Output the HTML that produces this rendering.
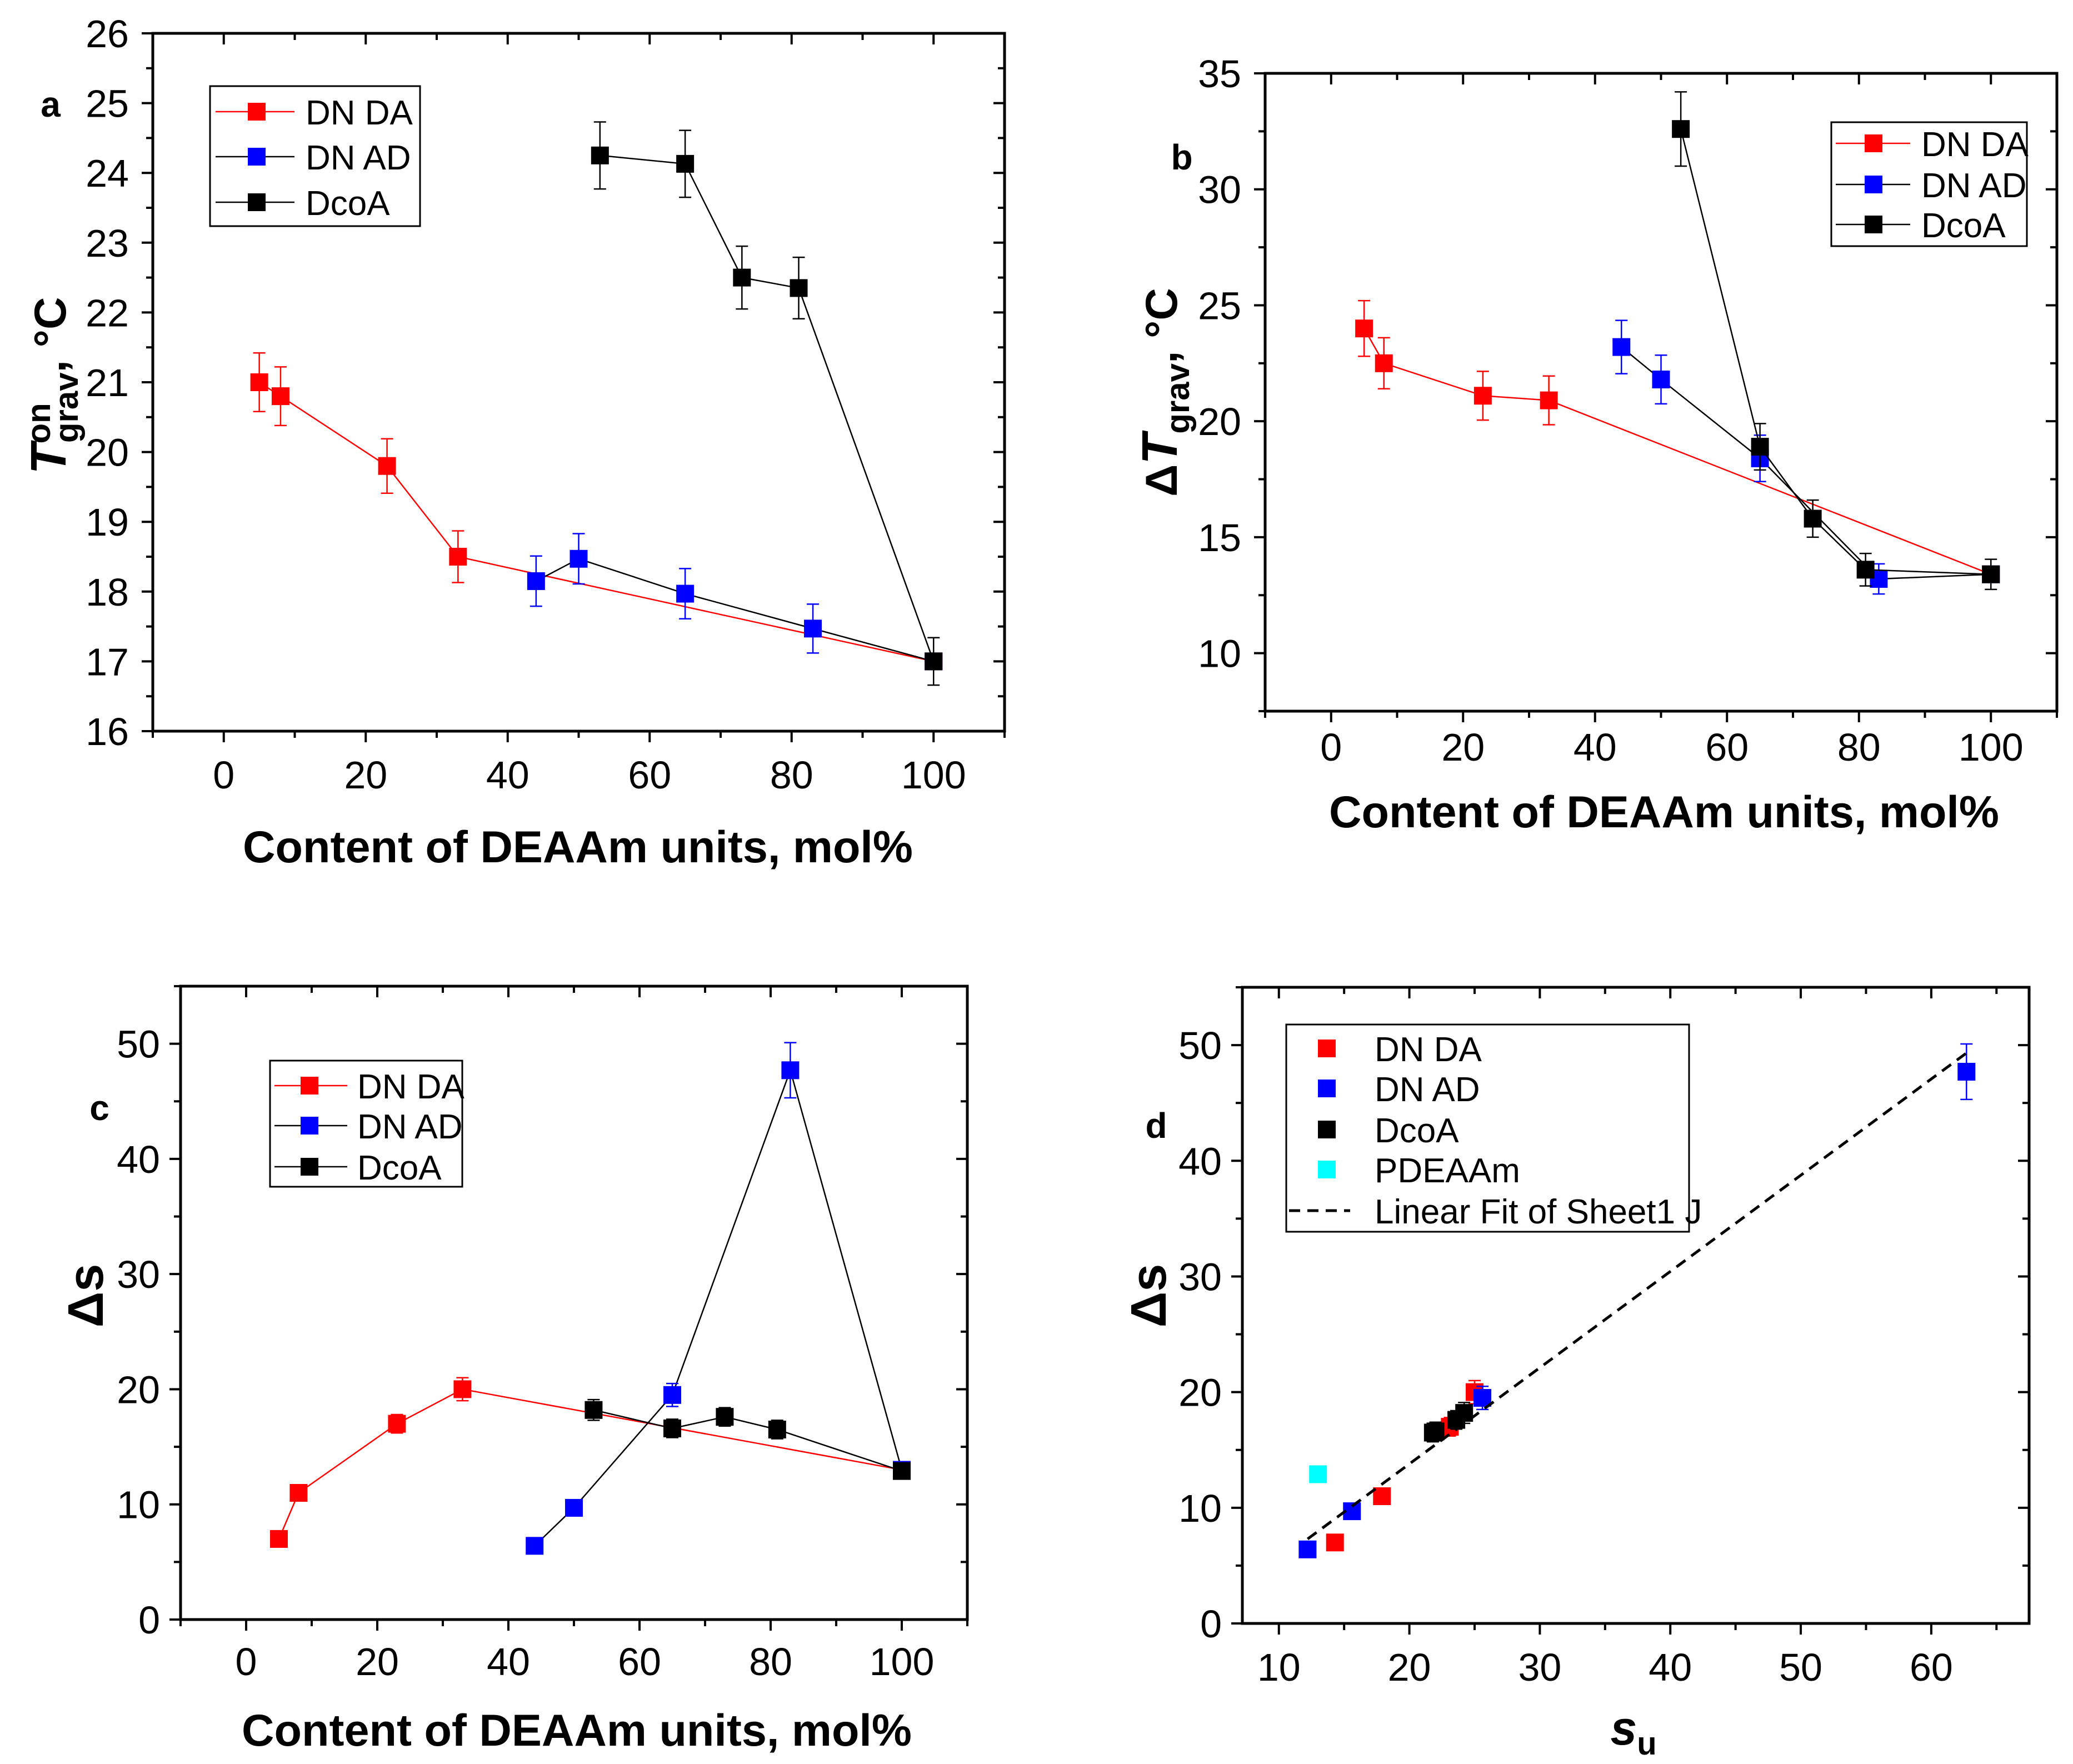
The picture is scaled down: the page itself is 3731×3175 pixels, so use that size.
<!DOCTYPE html>
<html><head><meta charset="utf-8"><style>
html,body{margin:0;padding:0;background:#fff;overflow:hidden}
svg{display:block}
text{font-family:"Liberation Sans",Arial,sans-serif}
</style></head><body>
<svg id="fig" xmlns="http://www.w3.org/2000/svg" width="3731" height="3175" viewBox="0 0 3731 3175"></svg>
<script>
// ---- data ----
const xA_DNDA=[5,8,23,33,100], yA_DNDA=[21,20.8,19.8,18.5,17.0], eA_DNDA=[0.42,0.42,0.39,0.37,0];
const xA_DNAD=[44,50,65,83,100], yA_DNAD=[18.15,18.47,17.97,17.47,17.0], eA_DNAD=[0.36,0.36,0.36,0.35,0];
const xA_DcoA=[53,65,73,81,100], yA_DcoA=[24.25,24.13,22.5,22.35,17.0], eA_DcoA=[0.48,0.48,0.45,0.44,0.34];
const xB_DNDA=[5,8,23,33,100], yB_DNDA=[24,22.5,21.1,20.9,13.4], eB_DNDA=[1.2,1.1,1.05,1.05,0];
const xB_DNAD=[44,50,65,83,100], yB_DNAD=[23.2,21.8,18.4,13.2,13.4], eB_DNAD=[1.15,1.05,1.0,0.65,0];
const xB_DcoA=[53,65,73,81,100], yB_DcoA=[32.6,18.9,15.8,13.6,13.4], eB_DcoA=[1.6,1.0,0.8,0.7,0.65];
const xC_DNDA=[5,8,23,33,100], yC_DNDA=[7,11,17,20,13], eC_DNDA=[0.3,0.3,0.8,1.0,0];
const xC_DNAD=[44,50,65,83,100], yC_DNAD=[6.4,9.7,19.5,47.7,13], eC_DNAD=[0.3,0.3,1.0,2.4,0];
const xC_DcoA=[53,65,73,81,100], yC_DcoA=[18.2,16.6,17.6,16.5,12.9], eC_DcoA=[0.9,0.8,0.8,0.8,0.3];
const xD_DNDA=[14.3,17.9,23.1,25.0], yD_DNDA=[7,11,17,20], eD_DNDA=[0,0,0.8,1.0];
const xD_DNAD=[12.2,15.6,25.6,62.7], yD_DNAD=[6.4,9.7,19.5,47.7], eD_DNAD=[0,0,1.0,2.4];
const xD_DcoA=[21.8,22.0,23.6,24.2], yD_DcoA=[16.5,16.6,17.6,18.2], eD_DcoA=[0.8,0.8,0.8,0.9];
const xD_PDEAAm=[13.0], yD_PDEAAm=[12.9];
const fitRange=[12.2,62.7], fitSlope=0.832, fitIntercept=-2.85;

const NS='http://www.w3.org/2000/svg';
const svg=document.getElementById('fig');
function el(tag,attrs,parent,txt){const e=document.createElementNS(NS,tag);for(const k in attrs)e.setAttribute(k,attrs[k]);if(txt!==undefined)e.textContent=txt;(parent||svg).appendChild(e);return e;}
const MS=16;

function panel(cfg){
  const g=el('g',{});
  
  
  const X=v=>cfg.x0+(v-cfg.xmin)/(cfg.xmax-cfg.xmin)*(cfg.x1-cfg.x0);
  const Y=v=>cfg.y1-(v-cfg.ymin)/(cfg.ymax-cfg.ymin)*(cfg.y1-cfg.y0);
  const tg=el('g',{stroke:'#000','stroke-width':4},g);
  for(let v=cfg.xTickStart;v<=cfg.xmax+1e-9;v+=cfg.xMinor){
    const maj=cfg.xMajorSet(v);
    const L=maj?20:12;
    el('line',{x1:X(v),x2:X(v),y1:cfg.y1,y2:cfg.y1+L},tg);
    el('line',{x1:X(v),x2:X(v),y1:cfg.y0,y2:cfg.y0+L},tg);
  }
  for(let v=cfg.yTickStart;v<=cfg.ymax+1e-9;v+=cfg.yMinor){
    const maj=Math.abs(v/cfg.yMajor-Math.round(v/cfg.yMajor))<1e-6;
    const L=maj?20:12;
    el('line',{x1:cfg.x0-L,x2:cfg.x0,y1:Y(v),y2:Y(v)},tg);
    el('line',{x1:cfg.x1-L,x2:cfg.x1,y1:Y(v),y2:Y(v)},tg);
  }
  const ax=el('rect',{x:cfg.x0,y:cfg.y0,width:cfg.x1-cfg.x0,height:cfg.y1-cfg.y0,fill:'none',stroke:'#000','stroke-width':5},g);
  
  
  cfg.xLabels.forEach(v=>{const t=el('text',{x:X(v),y:cfg.xLabelY+25,'font-size':70,'text-anchor':'middle'},g,String(v));
    
    });
  cfg.yLabels.forEach(v=>{const t=el('text',{x:cfg.yLabelX,y:Y(v)+25,'font-size':70,'text-anchor':'end'},g,String(v));
    
    });
  cfg.series.forEach(s=>{
    const sg=el('g',{},g);
    
    
    if(s.line){
      const pts=s.x.map((v,i)=>X(v)+','+Y(s.y[i])).join(' ');
      el('polyline',{points:pts,fill:'none',stroke:s.lineColor,'stroke-width':2.5},sg);
    }
    s.x.forEach((v,i)=>{
      const e=s.e?s.e[i]:0;
      if(e>0){
        el('line',{x1:X(v),x2:X(v),y1:Y(s.y[i]+e),y2:Y(s.y[i]-e),stroke:s.color,'stroke-width':2.5},sg);
        el('line',{x1:X(v)-11,x2:X(v)+11,y1:Y(s.y[i]+e),y2:Y(s.y[i]+e),stroke:s.color,'stroke-width':2.5},sg);
        el('line',{x1:X(v)-11,x2:X(v)+11,y1:Y(s.y[i]-e),y2:Y(s.y[i]-e),stroke:s.color,'stroke-width':2.5},sg);
      }
      const m=el('rect',{x:X(v)-MS,y:Y(s.y[i])-MS,width:2*MS,height:2*MS,fill:s.color},sg);
      
      
    });
  });
  if(cfg.fit){
    const f=cfg.fit;
    const fl=el('line',{x1:X(f.r[0]),y1:Y(f.s*f.r[0]+f.b),x2:X(f.r[1]),y2:Y(f.s*f.r[1]+f.b),stroke:'#000','stroke-width':5,'stroke-dasharray':'20,13'},g);
    
    
  }
  return {g,X,Y};
}

function legend(g,box,rows,lineX,markX,textX){
  const lg=el('g',{},g);
  
  
  el('rect',{x:box[0],y:box[1],width:box[2]-box[0],height:box[3]-box[1],fill:'#fff',stroke:'#000','stroke-width':3},lg);
  rows.forEach(r=>{
    const eg=el('g',{},lg);
    
    
    if(r.line)el('line',{x1:lineX[0],x2:lineX[1],y1:r.y,y2:r.y,stroke:r.line,'stroke-width':r.dash?5:2.5,'stroke-dasharray':r.dash?'20,13':'none'},eg);
    if(r.color)el('rect',{x:markX-MS,y:r.y-MS,width:2*MS,height:2*MS,fill:r.color},eg);
    el('text',{x:textX,y:r.y+23,'font-size':62},eg,r.label);
  });
}
function txt(g,x,y,s,attrs,name){const t=el('text',Object.assign({x,y},attrs),g,s);return t;}
const TF=81;

// ---- Panel a ----
let p=panel({name:'panel-a',x0:275,x1:1808,y0:60,y1:1316,xmin:-10,xmax:110,ymin:16,ymax:26,
  xTickStart:-10,xMinor:10,xMajorSet:v=>v%20===0,yTickStart:16,yMinor:0.5,yMajor:1,
  xLabels:[0,20,40,60,80,100],yLabels:[16,17,18,19,20,21,22,23,24,25,26],xLabelY:1394,yLabelX:232,
  series:[
    {key:'dn-da',x:xA_DNDA,y:yA_DNDA,e:eA_DNDA,color:'#ff0000',line:true,lineColor:'#ff0000'},
    {key:'dn-ad',x:xA_DNAD,y:yA_DNAD,e:eA_DNAD,color:'#0000ff',line:true,lineColor:'#000'},
    {key:'dcoa',x:xA_DcoA,y:yA_DcoA,e:eA_DcoA,color:'#000',line:true,lineColor:'#000'}]});
legend(p.g,[378,155,756,407],[{y:201,line:'#ff0000',color:'#ff0000',label:'DN DA'},{y:282,line:'#000',color:'#0000ff',label:'DN AD'},{y:364,line:'#000',color:'#000',label:'DcoA'}],[388,530],462,550);
txt(p.g,1040,1552,'Content of DEAAm units, mol%',{'font-size':TF,'font-weight':'bold','text-anchor':'middle'},'x-axis-title');
let t=txt(p.g,0,0,'',{'font-size':TF,'font-weight':'bold','text-anchor':'middle',transform:'translate(118,694) rotate(-90)'},'y-axis-title');
t.innerHTML='<tspan font-style="italic" font-size="90">T</tspan><tspan font-size="60" dy="-28">on</tspan><tspan font-size="60" dx="-72" dy="50">grav</tspan><tspan dy="-22">, °C</tspan>';
txt(p.g,91,210,'a',{'font-size':64,'font-weight':'bold','text-anchor':'middle'},'panel-label');

// ---- Panel b ----
p=panel({name:'panel-b',x0:2277,x1:3702,y0:132,y1:1280,xmin:-10,xmax:110,ymin:7.5,ymax:35,
  xTickStart:-10,xMinor:10,xMajorSet:v=>v%20===0,yTickStart:7.5,yMinor:2.5,yMajor:5,
  xLabels:[0,20,40,60,80,100],yLabels:[10,15,20,25,30,35],xLabelY:1344,yLabelX:2234,
  series:[
    {key:'dn-da',x:xB_DNDA,y:yB_DNDA,e:eB_DNDA,color:'#ff0000',line:true,lineColor:'#ff0000'},
    {key:'dn-ad',x:xB_DNAD,y:yB_DNAD,e:eB_DNAD,color:'#0000ff',line:true,lineColor:'#000'},
    {key:'dcoa',x:xB_DcoA,y:yB_DcoA,e:eB_DcoA,color:'#000',line:true,lineColor:'#000'}]});
legend(p.g,[3296,220,3648,443],[{y:258,line:'#ff0000',color:'#ff0000',label:'DN DA'},{y:332,line:'#000',color:'#0000ff',label:'DN AD'},{y:404,line:'#000',color:'#000',label:'DcoA'}],[3304,3438],3372,3458);
txt(p.g,2995,1489,'Content of DEAAm units, mol%',{'font-size':TF,'font-weight':'bold','text-anchor':'middle'},'x-axis-title');
t=txt(p.g,0,0,'',{'font-size':TF,'font-weight':'bold','text-anchor':'middle',transform:'translate(2118,706) rotate(-90)'},'y-axis-title');
t.innerHTML='Δ<tspan font-style="italic" font-size="90">T</tspan><tspan font-size="60" dy="22">grav</tspan><tspan dy="-22">, °C</tspan>';
txt(p.g,2127,305,'b',{'font-size':64,'font-weight':'bold','text-anchor':'middle'},'panel-label');

// ---- Panel c ----
p=panel({name:'panel-c',x0:325,x1:1741,y0:1775,y1:2915,xmin:-10,xmax:110,ymin:0,ymax:55,
  xTickStart:-10,xMinor:10,xMajorSet:v=>v%20===0,yTickStart:0,yMinor:5,yMajor:10,
  xLabels:[0,20,40,60,80,100],yLabels:[0,10,20,30,40,50],xLabelY:2990,yLabelX:288,
  series:[
    {key:'dn-da',x:xC_DNDA,y:yC_DNDA,e:eC_DNDA,color:'#ff0000',line:true,lineColor:'#ff0000'},
    {key:'dn-ad',x:xC_DNAD,y:yC_DNAD,e:eC_DNAD,color:'#0000ff',line:true,lineColor:'#000'},
    {key:'dcoa',x:xC_DcoA,y:yC_DcoA,e:eC_DcoA,color:'#000',line:true,lineColor:'#000'}]});
legend(p.g,[486,1909,832,2136],[{y:1954,line:'#ff0000',color:'#ff0000',label:'DN DA'},{y:2026,line:'#000',color:'#0000ff',label:'DN AD'},{y:2100,line:'#000',color:'#000',label:'DcoA'}],[494,625],557,643);
txt(p.g,1038,3142,'Content of DEAAm units, mol%',{'font-size':TF,'font-weight':'bold','text-anchor':'middle'},'x-axis-title');
txt(p.g,0,0,'Δs',{'font-size':90,'font-weight':'bold','text-anchor':'middle',transform:'translate(185,2332) rotate(-90)'},'y-axis-title');
txt(p.g,179,2016,'c',{'font-size':64,'font-weight':'bold','text-anchor':'middle'},'panel-label');

// ---- Panel d ----
p=panel({name:'panel-d',x0:2236,x1:3652,y0:1777,y1:2922,xmin:7.2,xmax:67.5,ymin:0,ymax:55,
  xTickStart:10,xMinor:5,xMajorSet:v=>v%10===0,yTickStart:0,yMinor:5,yMajor:10,
  xLabels:[10,20,30,40,50,60],yLabels:[0,10,20,30,40,50],xLabelY:3000,yLabelX:2199,
  fit:{r:fitRange,s:fitSlope,b:fitIntercept},
  series:[
    {key:'dn-da',x:xD_DNDA,y:yD_DNDA,e:eD_DNDA,color:'#ff0000'},
    {key:'dn-ad',x:xD_DNAD,y:yD_DNAD,e:eD_DNAD,color:'#0000ff'},
    {key:'dcoa',x:xD_DcoA,y:yD_DcoA,e:eD_DcoA,color:'#000'},
    {key:'pdeaam',x:xD_PDEAAm,y:yD_PDEAAm,color:'#00ffff'}]});
legend(p.g,[2315,1844,3040,2217],[{y:1887,color:'#ff0000',label:'DN DA'},{y:1959,color:'#0000ff',label:'DN AD'},{y:2033,color:'#000',label:'DcoA'},{y:2105,color:'#00ffff',label:'PDEAAm'},{y:2179,line:'#000',dash:true,label:'Linear Fit of Sheet1 J'}],[2320,2430],2388,2474);
t=txt(p.g,2940,3140,'',{'font-size':86,'font-weight':'bold','text-anchor':'middle'},'x-axis-title');
t.innerHTML='<tspan font-style="italic">s</tspan><tspan font-size="58" dy="18">u</tspan>';
txt(p.g,0,0,'Δs',{'font-size':90,'font-weight':'bold','text-anchor':'middle',transform:'translate(2098,2332) rotate(-90)'},'y-axis-title');
txt(p.g,2081,2048,'d',{'font-size':64,'font-weight':'bold','text-anchor':'middle'},'panel-label');
</script>
</body></html>
